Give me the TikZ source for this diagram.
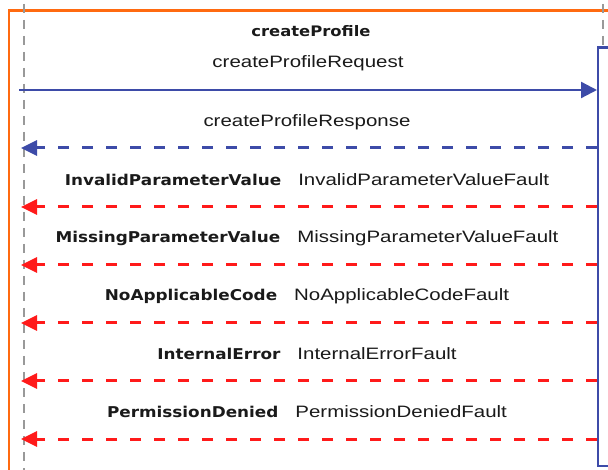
\documentclass[tikz,border=0pt]{standalone}
\usepackage{fontspec}
\setmainfont{Liberation Sans}[FakeStretch=1.24]
\newfontfamily\boldf{DejaVu Sans}[FakeStretch=1.13]
\usetikzlibrary{arrows.meta}
\definecolor{frameorange}{HTML}{FF6A10}
\definecolor{seqblue}{HTML}{3D4BA8}
\definecolor{faultred}{HTML}{FF1A1A}
\definecolor{txt}{HTML}{1A1A1A}
\tikzset{
  lifeline/.style={draw=gray!80, line width=1.1pt, dash pattern=on 9pt off 7pt},
  reqarrow/.style={draw=seqblue, line width=2.3pt, -{Triangle[length=16pt,width=16pt]}},
  resparrow/.style={draw=seqblue, line width=3pt, dash pattern=on 11pt off 13pt, -{Triangle[length=16pt,width=15pt]}},
  faultarrow/.style={draw=faultred, line width=3pt, dash pattern=on 11pt off 13pt, -{Triangle[length=16pt,width=15pt]}},
  msglabel/.style={inner sep=0pt, text=txt, font=\fontsize{16.5}{18}\selectfont},
  boldlabel/.style={inner sep=0pt, text=txt, font=\boldf\bfseries\fontsize{14.5}{17}\selectfont},
}
\newcommand{\faultlbl}[2]{{\boldf\bfseries\fontsize{14.9}{17}\selectfont #1}\hspace{17pt}#2}
\begin{document}
\begin{tikzpicture}[x=1pt,y=-1pt]
\useasboundingbox (0,0) rectangle (608,470);
\clip (0,0) rectangle (608,470);
\fill[white] (0,0) rectangle (608,470);
% frame
\draw[frameorange, line width=2.6pt] (9,480) -- (9,10.5) -- (620,10.5);
% lifelines
\coordinate (LTop) at (24,4);
\coordinate (LBot) at (24,472);
\draw[lifeline] (LTop) -- (LBot);
\coordinate (RTop) at (603,4);
\coordinate (RBox) at (603,47.5);
\draw[lifeline] (RTop) -- (RBox);
% activation box
\draw[seqblue, line width=2.6pt] (620,47.5) -- (598,47.5) -- (598,466) -- (620,466);
% title
\node[boldlabel] (title) at (311,31) {createProfile};
% request
\coordinate (reqL) at (19,90);
\coordinate (reqR) at (597,90);
\node[msglabel] (reqlbl) at (308,63) {createProfileRequest};
\draw[reqarrow] (reqL) -- (reqR);
% response
\coordinate (resR) at (597,148);
\coordinate (resL) at (21,148);
\node[msglabel] (reslbl) at (307,122) {createProfileResponse};
\draw[resparrow] (resR) -- (resL);
% faults
\foreach \y/\a/\b [count=\i] in {207/InvalidParameterValue/InvalidParameterValueFault,
  265/MissingParameterValue/MissingParameterValueFault,
  323/NoApplicableCode/NoApplicableCodeFault,
  381/InternalError/InternalErrorFault,
  439/PermissionDenied/PermissionDeniedFault}{
  \coordinate (fR\i) at (597,\y);
  \coordinate (fL\i) at (21,\y);
  \node[msglabel] (flbl\i) at (307,\y-27) {\faultlbl{\a}{\b}};
  \draw[faultarrow] (fR\i) -- (fL\i);
}
\end{tikzpicture}
\end{document}
